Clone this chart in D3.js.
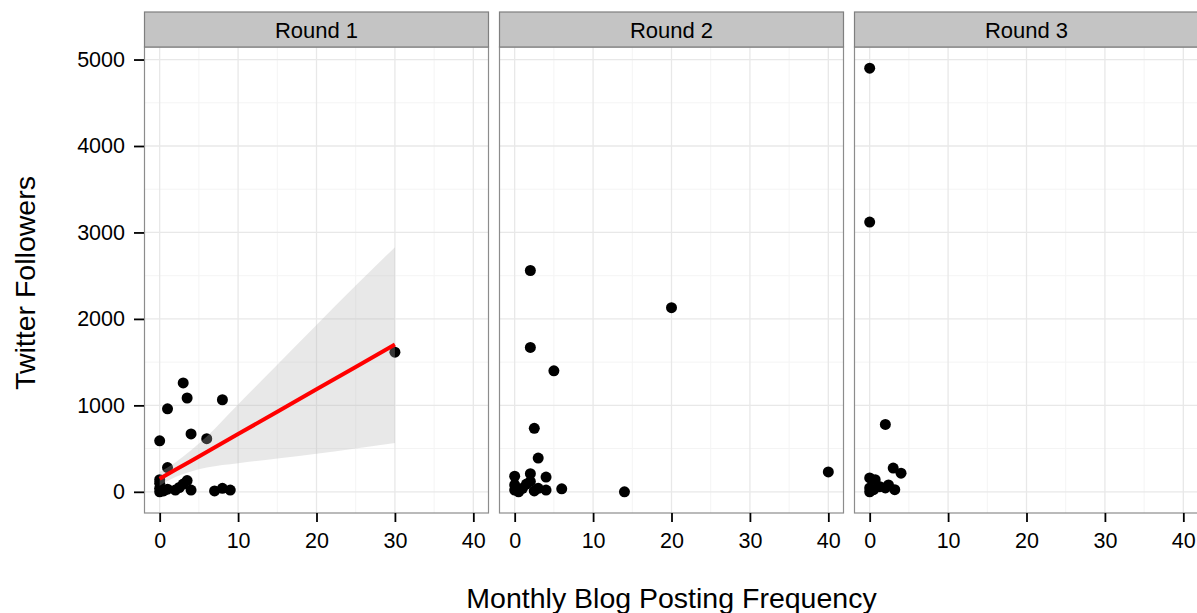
<!DOCTYPE html>
<html>
<head>
<meta charset="utf-8">
<script src="https://cdn.jsdelivr.net/npm/d3@7"></script>
<style>
  body { margin: 0; background: #fff; }
  text { font-family: "Liberation Sans", Arial, Helvetica, sans-serif; fill: #000; }
</style>
</head>
<body>
<script>
// ==================== Data ============================
const panels = ['Round 1', 'Round 2', 'Round 3'];

// [blog posts per month, twitter followers]
const round1 = [
  [0, 590], [1, 960], [3, 1260], [3.5, 1085], [4, 670], [6, 615], [8, 1065], [30, 1615],
  [1, 280], [0, 140], [0, 40], [0, 0], [0.5, 10], [2, 20], [2.5, 50], [3, 90],
  [3.5, 130], [4, 20], [1, 30], [7, 10], [8, 40], [9, 20], [0, 100]
];
const round2 = [
  [2, 2560], [2, 1670], [20, 2130], [5, 1400], [2.5, 735], [3, 390], [0, 180], [2, 210],
  [4, 170], [0, 80], [0, 20], [1, 40], [1.5, 90], [2.5, 10], [3, 40], [4, 20],
  [6, 35], [14, 0], [40, 230], [0.5, 0], [2, 120]
];
const round3 = [
  [0, 4900], [0, 3120], [2, 780], [3, 275], [4, 215], [0, 160], [0.7, 140], [0, 45],
  [0.5, 25], [1.3, 60], [2, 45], [2.4, 80], [3.2, 25], [0, 0]
];
const roundData = [round1, round2, round3];

// linear fit and its confidence band for Round 1
const smoothX   = [0, 2, 4, 6, 10, 15, 20, 25, 30];
const smoothFit = [150, 254, 357, 461, 668, 927, 1186, 1445, 1705];
const smoothLo  = [70, 170, 235, 280, 330, 385, 440, 500, 565];
const smoothHi  = [230, 340, 480, 640, 1010, 1470, 1930, 2385, 2830];

const xTicks = [0, 10, 20, 30, 40];
const xMinor = [5, 15, 25, 35];
const yTicks = [0, 1000, 2000, 3000, 4000, 5000];
const yMinor = [500, 1500, 2500, 3500, 4500];

// ==================== Layout ============================
const W = 1197, H = 613;
const panelLeft = 144, panelW = 345, panelGap = 10;
const stripTop = 12, stripH = 35;
const plotTop = stripTop + stripH, plotBottom = 513;
const tickFont = '21.5px';

const x = d3.scaleLinear().domain([-2, 42]).range([0, panelW]);
const y = d3.scaleLinear().domain([-245, 5145]).range([plotBottom, plotTop]);

const svg = d3.select('body').append('svg')
    .attr('width', W)
    .attr('height', H);

panels.forEach((name, i) => {
  const g = svg.append('g')
      .attr('transform', `translate(${panelLeft + i * (panelW + panelGap)}, 0)`);

  // grid
  g.selectAll('.xminor').data(xMinor).enter().append('line')
      .attr('x1', d => x(d)).attr('x2', d => x(d))
      .attr('y1', plotTop).attr('y2', plotBottom)
      .attr('stroke', '#f4f4f4').attr('stroke-width', 1);
  g.selectAll('.yminor').data(yMinor).enter().append('line')
      .attr('x1', 0).attr('x2', panelW)
      .attr('y1', d => y(d)).attr('y2', d => y(d))
      .attr('stroke', '#f4f4f4').attr('stroke-width', 1);
  g.selectAll('.xmajor').data(xTicks).enter().append('line')
      .attr('x1', d => x(d)).attr('x2', d => x(d))
      .attr('y1', plotTop).attr('y2', plotBottom)
      .attr('stroke', '#e8e8e8').attr('stroke-width', 1.3);
  g.selectAll('.ymajor').data(yTicks).enter().append('line')
      .attr('x1', 0).attr('x2', panelW)
      .attr('y1', d => y(d)).attr('y2', d => y(d))
      .attr('stroke', '#e8e8e8').attr('stroke-width', 1.3);

  // points
  g.selectAll('circle').data(roundData[i]).enter().append('circle')
      .attr('cx', d => x(d[0]))
      .attr('cy', d => y(d[1]))
      .attr('r', 5.5)
      .attr('fill', '#000');

  // smoother on round 1
  if (i === 0) {
    const band = smoothX.map((v, k) => ({x: v, lo: smoothLo[k], hi: smoothHi[k], fit: smoothFit[k]}));
    g.append('path')
        .datum(band)
        .attr('fill', 'rgb(180,180,180)')
        .attr('fill-opacity', 0.3)
        .attr('d', d3.area()
          .curve(d3.curveMonotoneX)
          .x(d => x(d.x))
          .y0(d => y(d.lo))
          .y1(d => y(d.hi)));
    g.append('path')
        .datum(band)
        .attr('fill', 'none')
        .attr('stroke', '#ff0000')
        .attr('stroke-width', 4)
        .attr('d', d3.line().x(d => x(d.x)).y(d => y(d.fit)));
  }

  // panel border
  g.append('rect')
      .attr('x', 0.5).attr('y', plotTop)
      .attr('width', panelW - 1).attr('height', plotBottom - plotTop)
      .attr('fill', 'none').attr('stroke', '#8c8c8c').attr('stroke-width', 1.2);

  // strip
  g.append('rect')
      .attr('x', 0.5).attr('y', stripTop)
      .attr('width', panelW - 1).attr('height', stripH)
      .attr('fill', '#c4c4c4').attr('stroke', '#7f7f7f').attr('stroke-width', 1.2);
  g.append('text')
      .attr('x', panelW / 2).attr('y', stripTop + stripH / 2 + 8)
      .attr('text-anchor', 'middle')
      .style('font-size', '22px')
      .text(name);

  // x axis
  const xAxis = g.append('g')
      .attr('transform', `translate(0, ${plotBottom})`)
      .call(d3.axisBottom(x).tickValues(xTicks).tickSize(9).tickPadding(11).tickFormat(d3.format('d')));
  xAxis.select('.domain').remove();
  xAxis.selectAll('line').attr('stroke', '#000').attr('stroke-width', 1.8);
  xAxis.selectAll('text').attr('fill', '#000').style('font-size', tickFont)
      .style('font-family', '"Liberation Sans", Arial, sans-serif');

  // y axis on first panel only
  if (i === 0) {
    const yAxis = g.append('g')
        .call(d3.axisLeft(y).tickValues(yTicks).tickSize(10).tickPadding(9).tickFormat(d3.format('d')));
    yAxis.select('.domain').remove();
    yAxis.selectAll('line').attr('stroke', '#000').attr('stroke-width', 1.8);
    yAxis.selectAll('text').attr('fill', '#000').style('font-size', tickFont)
        .style('font-family', '"Liberation Sans", Arial, sans-serif');
  }
});

// axis titles
svg.append('text')
    .attr('transform', `translate(35, ${(plotTop + plotBottom) / 2 + 3}) rotate(-90)`)
    .attr('text-anchor', 'middle')
    .style('font-size', '28.5px')
    .text('Twitter Followers');

svg.append('text')
    .attr('x', (panelLeft + panelLeft + 3 * panelW + 2 * panelGap) / 2)
    .attr('y', 608)
    .attr('text-anchor', 'middle')
    .style('font-size', '28.5px')
    .text('Monthly Blog Posting Frequency');
</script>
</body>
</html>
